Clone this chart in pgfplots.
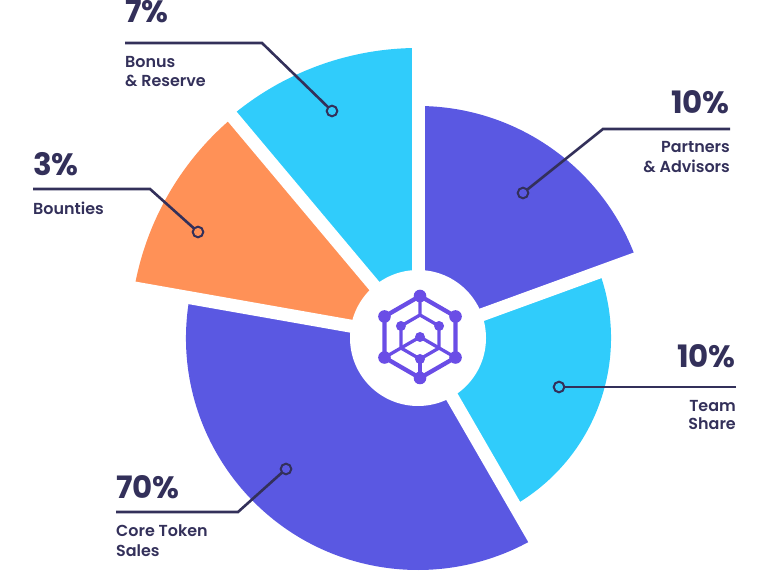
\documentclass[border=0pt]{standalone}
\usepackage{pgfplots}
\pgfplotsset{compat=1.18}
\usepackage{fontspec}
\setmainfont{Poppins}
\newfontfamily\medfont{Poppins SemiBold}
\definecolor{purp}{HTML}{5A58E2}
\definecolor{cyanc}{HTML}{30CCFB}
\definecolor{orangec}{HTML}{FF9157}
\definecolor{navy}{HTML}{33305A}
\definecolor{logoc}{HTML}{6A4DE6}
% wedge: start angle, end angle, radius (px), colour
\newcommand{\wedgeseg}[4]{\fill[#4] (axis cs:418,232) -- ++(#1:#3bp) arc[start angle=#1, end angle=#2, radius=#3bp] -- cycle;}
\newcommand{\gap}[2]{\draw[white, line width=13bp] (axis cs:418,232) -- ++(#1:#2bp);}
\newcommand{\pct}[3]{\node[anchor=base #1, inner sep=0pt, text=navy, font=\bfseries\fontsize{31}{31}\selectfont] at (axis cs:#2) {#3};}
\newcommand{\lab}[3]{\node[anchor=base #1, inner sep=0pt, text=navy, font=\medfont\fontsize{16}{16}\selectfont] at (axis cs:#2) {#3};}
\begin{document}
\begin{tikzpicture}
\begin{axis}[scale only axis, width=770bp, height=570bp,
  xmin=0, xmax=770, ymin=0, ymax=570, hide axis, clip=false]
\path (axis cs:0,0) rectangle (axis cs:770,570);
% wedges: Partners 10%, Team 10%, Core 70%, Bounties 3%, Bonus 7%
\wedgeseg{20}{90}{232}{purp}
\wedgeseg{-60}{20}{193}{cyanc}
\wedgeseg{170}{300}{232}{purp}
\wedgeseg{130}{170}{288}{orangec}
\wedgeseg{90}{130}{290}{cyanc}
% gaps
\gap{90}{295}
\gap{20}{240}
\gap{-60}{240}
\gap{170}{295}
\gap{130}{295}
\fill[white] (axis cs:418,232) circle[radius=68bp];
% logo
\draw[logoc, line width=4.3bp, line join=round] (axis cs:420,233) ++(90:41bp) -- ++(-30:41bp) -- ++(-90:41bp) -- ++(-150:41bp) -- ++(150:41bp) -- ++(90:41bp) -- cycle;
\draw[logoc, line width=3.3bp, line join=round] (axis cs:420,274) -- (axis cs:420,255) -- ++(-150:22bp) -- ++(-90:22bp) -- ++(-30:22bp) -- ++(30:22bp) -- ++(90:22bp) -- ++(150:22bp);
\draw[logoc, line width=3.3bp] (axis cs:420,233) -- ++(-150:41bp);
\draw[logoc, line width=3.3bp] (axis cs:420,233) -- ++(-30:41bp);
\draw[logoc, line width=3.3bp] (axis cs:420,211) -- (axis cs:420,192);
\pgfplotsinvokeforeach{90,30,-30,-90,-150,150}{
  \fill[logoc] (axis cs:420,233) ++(#1:41bp) circle[radius=6.3bp];
}
\pgfplotsinvokeforeach{150,30,-90}{
  \fill[logoc] (axis cs:420,233) ++(#1:22bp) circle[radius=5bp];
}
\fill[logoc] (axis cs:420,233) circle[radius=5bp];
% leader lines
\addplot[navy, line width=2.6bp, mark=none] coordinates {(125,527) (262,527) (332,459)};
\addplot[navy, line width=2.6bp, mark=none] coordinates {(730,441) (603,441) (523,377)};
\addplot[navy, line width=2.6bp, mark=none] coordinates {(33,381) (150,381) (198,338)};
\addplot[navy, line width=2.6bp, mark=none] coordinates {(736,183) (559,183)};
\addplot[navy, line width=2.6bp, mark=none] coordinates {(116,58) (238,58) (286,101)};
\addplot[only marks, mark=*, mark size=5.3bp, mark options={draw=navy, fill=cyanc, line width=2bp}] coordinates {(332,459) (559,183)};
\addplot[only marks, mark=*, mark size=5.3bp, mark options={draw=navy, fill=purp, line width=2bp}] coordinates {(523,377) (286,101)};
\addplot[only marks, mark=*, mark size=5.3bp, mark options={draw=navy, fill=orangec, line width=2bp}] coordinates {(198,338)};
% texts
\pct{west}{125,547}{7\%}
\lab{west}{125,502}{Bonus}
\lab{west}{125,483}{\& Reserve}
\pct{east}{730,456}{10\%}
\lab{east}{730,417}{Partners}
\lab{east}{730,397}{\& Advisors}
\pct{west}{33,394}{3\%}
\lab{west}{33,355}{Bounties}
\pct{east}{736,202}{10\%}
\lab{east}{736,158}{Team}
\lab{east}{736,140}{Share}
\pct{west}{116,71}{70\%}
\lab{west}{116,33}{Core Token}
\lab{west}{116,13}{Sales}
\end{axis}
\end{tikzpicture}
\end{document}
